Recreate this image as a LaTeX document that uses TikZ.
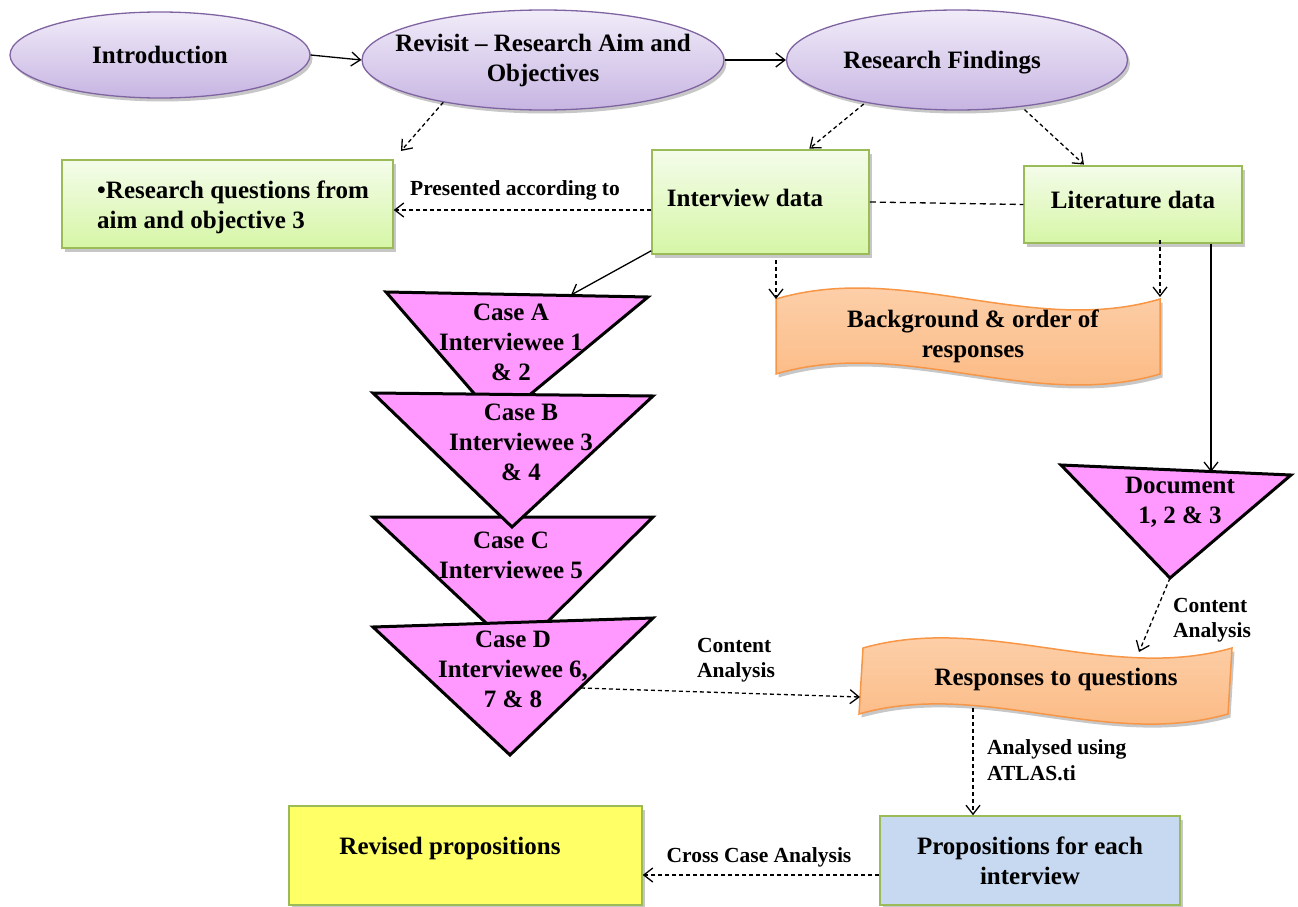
\documentclass[tikz,border=0pt]{standalone}
\usepackage{fontspec}
\setmainfont{Liberation Serif}
\usetikzlibrary{arrows.meta,shapes.geometric,shadows,calc}
\definecolor{ellborder}{HTML}{8064A2}
\definecolor{elltop}{HTML}{F1ECF9}
\definecolor{ellbot}{HTML}{C7B5E2}
\definecolor{grborder}{HTML}{9BBB59}
\definecolor{grtop}{HTML}{F4FCEA}
\definecolor{grbot}{HTML}{D6F6A6}
\definecolor{orborder}{HTML}{F79646}
\definecolor{ortop}{HTML}{FDD4B2}
\definecolor{orbot}{HTML}{FBB67C}
\definecolor{pinkfill}{HTML}{FF99FF}
\definecolor{bluefill}{HTML}{C6D9F1}
\definecolor{yelfill}{HTML}{FFFF66}
\begin{document}
\begin{tikzpicture}[x=1pt,y=-1pt,
  txt/.style={font=\fontsize{25}{30}\selectfont\bfseries, align=center, inner sep=0pt},
  lbl/.style={font=\fontsize{21.5}{25.5}\selectfont\bfseries, align=left, inner sep=0pt},
  shad/.style={drop shadow={shadow xshift=2.5pt,shadow yshift=-3.5pt,opacity=0.22,fill=black}},
  oval/.style={ellipse, draw=ellborder, line width=1.3pt, top color=elltop, bottom color=ellbot, shad, txt},
  gbox/.style={rectangle, draw=grborder, line width=1.5pt, top color=grtop, bottom color=grbot, shad, txt},
  wave/.style={draw=orborder, line width=1.5pt, top color=ortop, bottom color=orbot, shad},
  tri/.style={draw=black, fill=pinkfill, line width=3pt, line join=miter},
  conn/.style={-{Straight Barb[length=9pt,width=14pt,line width=1.3pt]}, line width=1.3pt},
  dconn/.style={conn, dash pattern=on 4pt off 3pt},
  dline/.style={line width=1.3pt, dash pattern=on 6pt off 4pt}
]
\useasboundingbox (0,0) rectangle (1298,907);

% ellipses
\node[oval, minimum width=300pt, minimum height=86pt] (intro) at (160,55) {};
\node[txt] (introtxt) at (160,55) {Introduction};
\node[oval, minimum width=362pt, minimum height=100pt] (revisit) at (543,60) {};
\node[txt] (revisittxt) at (543,60) {Revisit -- Research Aim and\\Objectives};
\node[oval, minimum width=341pt, minimum height=100pt] (findings) at (957,60) {};
\node[txt] (findingstxt) at (942,63) {Research Findings};

% green boxes
\node[gbox, minimum width=331pt, minimum height=88pt] (box1) at (227.5,204) {};
\node[txt, align=left, anchor=west] (box1txt) at (97,207) {\textbullet Research questions from\\aim and objective 3};
\node[gbox, minimum width=217pt, minimum height=104pt] (interview) at (760.5,202) {};
\node[txt] (interviewtxt) at (745,198) {Interview data};
\node[gbox, minimum width=218pt, minimum height=77pt] (lit) at (1133,204.5) {};
\node[txt] (littxt) at (1133,200) {Literature data};

% waves
\coordinate (bgtl) at (776,299);
\coordinate (bgtr) at (1160,299);
\path[wave] (bgtl) .. controls (904,261) and (1032,337) .. (bgtr) -- (1160,374)
  .. controls (1032,412) and (904,336) .. (776,374) -- cycle;
\node[txt] (bgtxt) at (973,336) {Background \& order of\\responses};

\coordinate (restl) at (863,648);
\coordinate (restr) at (1232,648);
\path[wave] (restl) .. controls (986,613) and (1109,683) .. (restr) -- (1228,714)
  .. controls (1105,749) and (982,679) .. (859,714) -- cycle;
\node[txt] (restxt) at (1056,679) {Responses to questions};
\coordinate (resleft) at (860,697);
\coordinate (resin) at (1139,652);
\coordinate (resbot) at (973,708);

% triangles
\coordinate (ca1) at (386,292); \coordinate (ca2) at (648,297); \coordinate (ca3) at (498,421);
\coordinate (cb1) at (373,393); \coordinate (cb2) at (653,396); \coordinate (cb3) at (512,527);
\coordinate (cc1) at (373,517); \coordinate (cc2) at (653,517); \coordinate (cc3) at (517,652);
\coordinate (cd1) at (373,627); \coordinate (cd2) at (653,618); \coordinate (cd3) at (510,755);
\coordinate (dc1) at (1061,465); \coordinate (dc2) at (1291,475); \coordinate (dc3) at (1170,578);
\filldraw[tri] (ca1) -- (ca2) -- (ca3) -- cycle;
\filldraw[tri] (cc1) -- (cc2) -- (cc3) -- cycle;
\filldraw[tri] (cb1) -- (cb2) -- (cb3) -- cycle;
\filldraw[tri] (cd1) -- (cd2) -- (cd3) -- cycle;
\filldraw[tri] (dc1) -- (dc2) -- (dc3) -- cycle;
\node[txt] (catxt) at (511,342) {Case A\\Interviewee 1\\\& 2};
\node[txt] (cbtxt) at (521,442) {Case B\\Interviewee 3\\\& 4};
\node[txt] (cctxt) at (511,555) {Case C\\Interviewee 5};
\node[txt] (cdtxt) at (513,669) {Case D\\Interviewee 6,\\7 \& 8};
\node[txt] (dctxt) at (1180,502) {Document\\1, 2 \& 3};
\coordinate (cain) at (571,295);
\coordinate (cdout) at (581,688);
\coordinate (docin) at (1211,472);

% bottom boxes
\node[rectangle, draw=grborder, line width=1.5pt, fill=bluefill, shad, txt,
      minimum width=300pt, minimum height=89pt] (props) at (1030,860.5) {Propositions for each\\interview};
\node[rectangle, draw=grborder, line width=1.5pt, fill=yelfill, shad,
      minimum width=353pt, minimum height=99pt] (revised) at (465.5,855.5) {};
\node[txt] (revisedtxt) at (450,848) {Revised propositions};

% connectors
\draw[conn] (intro.east) -- (revisit.west);
\draw[conn] (revisit.east) -- (findings.west);
\draw[dconn, shorten >=11pt] (revisit.203) -- (box1.north east);
\draw[dconn, shorten <=2pt, shorten >=1pt] (findings.205) -- ($(interview.north west)!0.72!(interview.north east)$);
\draw[dconn, shorten <=4pt, shorten >=1pt] (findings.-36) -- ($(lit.north west)!0.28!(lit.north east)$);
\draw[dline] (interview.east) -- (lit.west);
\draw[dconn] ([yshift=-8pt]interview.west) -- ([yshift=-8pt]interview.west -| box1.east);
\node[lbl] (presented) at (515,190) {Presented according to};
\draw[conn, line width=1.3pt] ([yshift=4pt]interview.south west) -- (cain);
\draw[dconn, shorten <=5pt] (bgtl |- interview.south) -- (bgtl);
\draw[dconn, shorten <=-4pt, shorten >=2pt] (bgtr |- lit.south) -- (bgtr);
\draw[conn] (docin |- lit.south) -- (docin);
\draw[dconn] (dc3) -- (resin);
\node[lbl, anchor=west] (ca1lbl) at (1173,620) {Content\\Analysis};
\draw[dconn] (cdout) -- (resleft);
\node[lbl, anchor=west] (ca2lbl) at (697,660) {Content\\Analysis};
\draw[dconn] (resbot) -- (resbot |- props.north);
\node[lbl, anchor=west] (atlaslbl) at (987,760) {Analysed using\\ATLAS.ti};
\draw[dconn] ([yshift=-14.5pt]props.west) -- ([yshift=-14.5pt]props.west -| revised.east);
\node[lbl] (crosslbl) at (759,857) {Cross Case Analysis};
\end{tikzpicture}
\end{document}
